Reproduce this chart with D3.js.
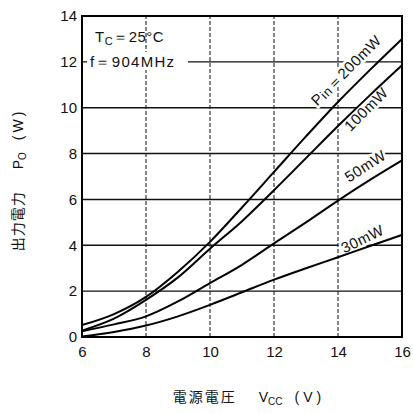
<!DOCTYPE html>
<html><head><meta charset="utf-8">
<script src="https://cdn.jsdelivr.net/npm/d3@7"></script>
<style>body{margin:0;background:#fff}svg{display:block}</style>
</head><body><svg id="c" width="413" height="414"></svg>
<script>
// ---- data ----
const vcc  = [6, 7, 8, 9, 10, 11, 12, 13, 14, 15, 16];
const p200 = [0.52, 1.0, 1.75, 2.85, 4.15, 5.65, 7.2, 8.75, 10.25, 11.65, 13.0];
const p100 = [0.28, 0.8, 1.62, 2.6, 3.85, 5.05, 6.4, 7.8, 9.2, 10.55, 11.85];
const p50  = [0.25, 0.55, 0.9, 1.55, 2.35, 3.15, 4.08, 5.0, 5.95, 6.85, 7.7];
const p30  = [0.02, 0.22, 0.5, 0.9, 1.4, 1.95, 2.5, 3.0, 3.48, 3.97, 4.45];
const seriesNames = ["200mW", "100mW", "50mW", "30mW"];
const xTicks = [6, 8, 10, 12, 14, 16];
const yTicks = [0, 2, 4, 6, 8, 10, 12, 14];

const series = [p200, p100, p50, p30];

const svg = d3.select("#c");
const x = d3.scaleLinear().domain([6, 16]).range([82, 402]);
const y = d3.scaleLinear().domain([0, 14]).range([337, 16]);
const font = "'Liberation Sans', Arial, sans-serif";
const cjk = "'Noto Sans CJK JP', sans-serif";

// grid
const g = svg.append("g");
g.selectAll("line.h").data(yTicks.filter(d => d > 0 && d < 14)).enter().append("line")
  .attr("x1", x(6)).attr("x2", x(16)).attr("y1", d => y(d)).attr("y2", d => y(d))
  .attr("stroke", "#111").attr("stroke-width", 1.4);
g.selectAll("line.v").data(xTicks.filter(d => d > 6 && d < 16)).enter().append("line")
  .attr("y1", y(0)).attr("y2", y(14)).attr("x1", d => x(d)).attr("x2", d => x(d))
  .attr("stroke", "#222").attr("stroke-width", 1.1).attr("stroke-dasharray", "4,2");

// condition text
const tc = svg.append("text").attr("x", 95).attr("y", 42).attr("font-family", font)
  .attr("font-size", 15).attr("fill", "#111").attr("letter-spacing", 0.5);
tc.append("tspan").text("T");
tc.append("tspan").text("C").attr("font-size", 11).attr("dy", 3);
tc.append("tspan").text("＝25°C").attr("dy", -3);

svg.append("rect").attr("x", 87).attr("y", 52).attr("width", 101).attr("height", 18).attr("fill", "#fff");
svg.append("text").attr("x", 90).attr("y", 67).attr("font-family", font)
  .attr("font-size", 15).attr("fill", "#111").attr("letter-spacing", 1.3).text("f＝904MHz");

// series labels (with white halo masking grid)
const labelSpecs = [
  {cx: 347, cy: 71, rot: -45},
  {cx: 367, cy: 110, rot: -45},
  {cx: 366, cy: 167, rot: -33},
  {cx: 363, cy: 240, rot: -26}
];
labelSpecs.forEach((s, i) => {
  const t = svg.append("text")
    .attr("transform", `translate(${s.cx},${s.cy}) rotate(${s.rot})`)
    .attr("text-anchor", "middle").attr("dominant-baseline", "middle")
    .attr("font-family", font).attr("font-size", 15).attr("fill", "#111")
    .attr("letter-spacing", 0.6)
    .attr("stroke", "#fff").attr("stroke-width", 5).attr("paint-order", "stroke");
  if (i === 0) {
    t.append("tspan").text("P");
    t.append("tspan").text("in").attr("font-size", 13).attr("dy", 2);
    t.append("tspan").text("＝" + seriesNames[0]).attr("dy", -2);
  } else {
    t.text(seriesNames[i]);
  }
});

// curves
const line = d3.line().x((d, i) => x(vcc[i])).y(d => y(d)).curve(d3.curveMonotoneX);
svg.selectAll("path.s").data(series).enter().append("path")
  .attr("d", d => line(d)).attr("fill", "none").attr("stroke", "#000").attr("stroke-width", 2);

// frame
svg.append("rect").attr("x", x(6)).attr("y", y(14)).attr("width", x(16) - x(6)).attr("height", y(0) - y(14))
  .attr("fill", "none").attr("stroke", "#000").attr("stroke-width", 2);

// axes tick labels via d3 axes
const ax = svg.append("g").attr("transform", `translate(0,${y(0)})`)
  .call(d3.axisBottom(x).tickValues(xTicks).tickSize(0).tickPadding(9).tickFormat(d3.format("d")));
const ay = svg.append("g").attr("transform", `translate(${x(6)},0)`)
  .call(d3.axisLeft(y).tickValues(yTicks).tickSize(0).tickPadding(5).tickFormat(d3.format("d")));
[ax, ay].forEach(a => {
  a.select(".domain").remove();
  a.selectAll("text").attr("font-family", font).attr("font-size", 15).attr("fill", "#111");
});

// y axis title
const yt = svg.append("text").attr("transform", "translate(23,180) rotate(-90)")
  .attr("text-anchor", "middle").attr("font-size", 14).attr("fill", "#111");
yt.append("tspan").text("出力電力").attr("font-family", cjk).attr("letter-spacing", 1);
yt.append("tspan").text("P").attr("font-family", font).attr("dx", 22);
yt.append("tspan").text("O").attr("font-family", font).attr("font-size", 10).attr("dy", 3);
yt.append("tspan").text("(W)").attr("font-family", font).attr("dy", -3).attr("dx", 12).attr("letter-spacing", 3);

// x axis title
const xt = svg.append("text").attr("x", 249).attr("y", 402)
  .attr("text-anchor", "middle").attr("font-size", 14).attr("fill", "#111");
xt.append("tspan").text("電源電圧").attr("font-family", cjk).attr("letter-spacing", 2);
xt.append("tspan").text("V").attr("font-family", font).attr("dx", 22);
xt.append("tspan").text("CC").attr("font-family", font).attr("font-size", 10).attr("dy", 3);
xt.append("tspan").text("(V)").attr("font-family", font).attr("dy", -3).attr("dx", 12).attr("letter-spacing", 4);
</script>
</body></html>
